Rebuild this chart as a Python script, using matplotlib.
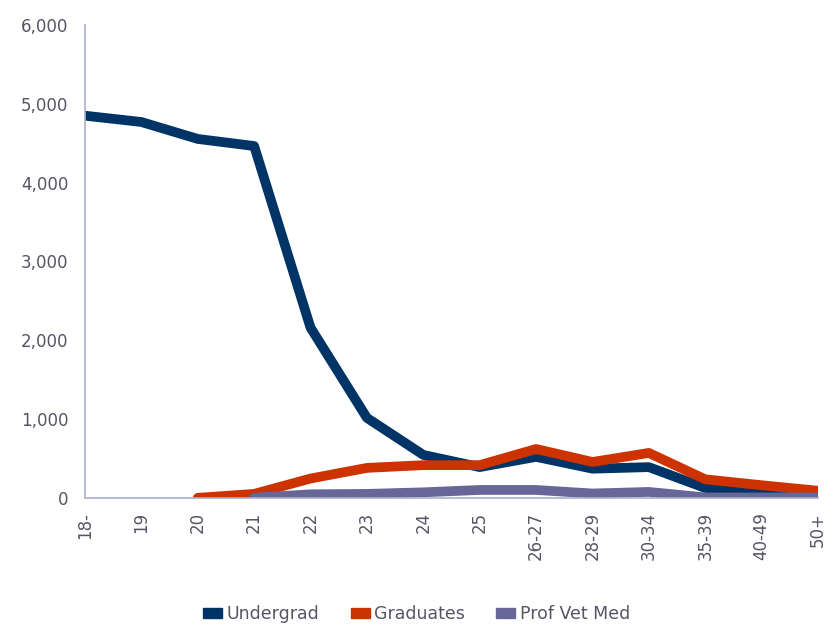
import numpy as np
import matplotlib.pyplot as plt
from matplotlib.patches import Patch
from matplotlib import font_manager

plt.rcParams["font.family"] = "sans-serif"
plt.rcParams["font.sans-serif"] = ["DejaVu Sans", "Verdana", "Liberation Sans"]
print(font_manager.findfont("DejaVu Sans"))

# Age groups on the x axis
categories = ["18-", "19", "20", "21", "22", "23", "24", "25",
              "26-27", "28-29", "30-34", "35-39", "40-49", "50+"]

# Enrolment by age (None = no value for that group)
undergrad = [4850, 4770, 4555, 4465, 2160, 1015, 545, 390,
             520, 370, 390, 125, 60, 20]
graduates = [None, None, 0, 50, 245, 380, 415, 415,
             620, 455, 570, 235, 160, 90]
prof_vet_med = [None, None, None, 0, 45, 50, 70, 100,
                100, 55, 75, 5, 5, 5]

series = [("Undergrad", undergrad, "#003366"),
          ("Graduates", graduates, "#cc3300"),
          ("Prof Vet Med", prof_vet_med, "#666699")]

fig = plt.figure(figsize=(8.33, 6.27), dpi=100)
ax = fig.add_axes([0.102, 0.206, 0.880, 0.754])

x = np.arange(len(categories))
for name, values, color in series:
    y = np.array([np.nan if v is None else v for v in values], dtype=float)
    ax.plot(x, y, color=color, linewidth=7, solid_capstyle="round",
            solid_joinstyle="round")

ax.set_xlim(0, len(categories) - 1)
ax.set_ylim(0, 6000)
ax.set_yticks(range(0, 6001, 1000))
ax.set_yticklabels([f"{v:,}" for v in range(0, 6001, 1000)])
ax.set_xticks(x)
ax.set_xticklabels(categories, rotation=90)

label_color = "#555566"
ax.tick_params(axis="both", length=0, labelsize=12, labelcolor=label_color)
ax.tick_params(axis="y", pad=12)
ax.tick_params(axis="x", pad=10)

for side in ["top", "right"]:
    ax.spines[side].set_visible(False)
for side in ["left", "bottom"]:
    ax.spines[side].set_color("#a8b0cc")
    ax.spines[side].set_linewidth(1.2)

handles = [Patch(facecolor=c, edgecolor=c, label=n) for n, _, c in series]
leg = fig.legend(handles=handles, loc="center", bbox_to_anchor=(0.5, 0.02),
                 ncol=3, frameon=False, fontsize=12.5, handlelength=1.1,
                 handleheight=0.5, columnspacing=1.8, handletextpad=0.25)
for t in leg.get_texts():
    t.set_color(label_color)

fig.savefig("out.png", dpi=100)
